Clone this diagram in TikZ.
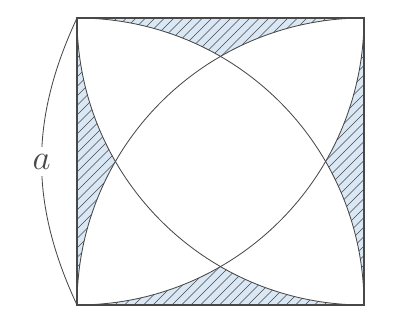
\documentclass[tikz,border=0pt]{standalone}
\usepackage{tikz}
\usetikzlibrary{calc}
\definecolor{paleblue}{RGB}{218,232,245}
\definecolor{ink}{RGB}{72,72,72}

\begin{document}
\begin{tikzpicture}[x=0.025cm, y=0.025cm,
    side/.style={ink, line width=0.9pt},
    curve/.style={ink, line width=0.6pt},
    hatch/.style={ink, line width=0.4pt}]
    \useasboundingbox (-77,-29) rectangle (329,305);
    \def\s{287}

    % Corners of the square
    \coordinate (bl) at (0,0);
    \coordinate (br) at (\s,0);
    \coordinate (tr) at (\s,\s);
    \coordinate (tl) at (0,\s);

    % Shaded pieces along the four sides
    \foreach \r in {0,90,180,270} {
        \begin{scope}[rotate around={\r:(\s/2,\s/2)}]
            \fill[paleblue] (0,\s) -- (\s,\s) arc[start angle=90, end angle=120, radius=\s]
                arc[start angle=60, end angle=90, radius=\s] -- cycle;
            \begin{scope}
                \clip (0,\s) -- (\s,\s) arc[start angle=90, end angle=120, radius=\s]
                    arc[start angle=60, end angle=90, radius=\s] -- cycle;
                \begin{scope}[rotate around={-\r:(\s/2,\s/2)}]
                    \foreach \k in {-35,...,35}
                        \draw[hatch] (\k*9.5-20,-20) -- ++(330,330);
                \end{scope}
            \end{scope}
        \end{scope}
    }

    % Quarter circles about the corners
    \draw[curve] (br) arc[start angle=0, end angle=90, radius=\s];
    \draw[curve] (tr) arc[start angle=90, end angle=180, radius=\s];
    \draw[curve] (tr) arc[start angle=0, end angle=-90, radius=\s];
    \draw[curve] (tl) arc[start angle=180, end angle=270, radius=\s];

    % Square
    \draw[side] (bl) rectangle (tr);

    % Side length
    \draw[curve] (tl) to[bend right=25]
        node[fill=white, inner sep=5pt, font=\fontsize{25}{30}\selectfont] (lab) {$a$} (bl);
\end{tikzpicture}
\end{document}
